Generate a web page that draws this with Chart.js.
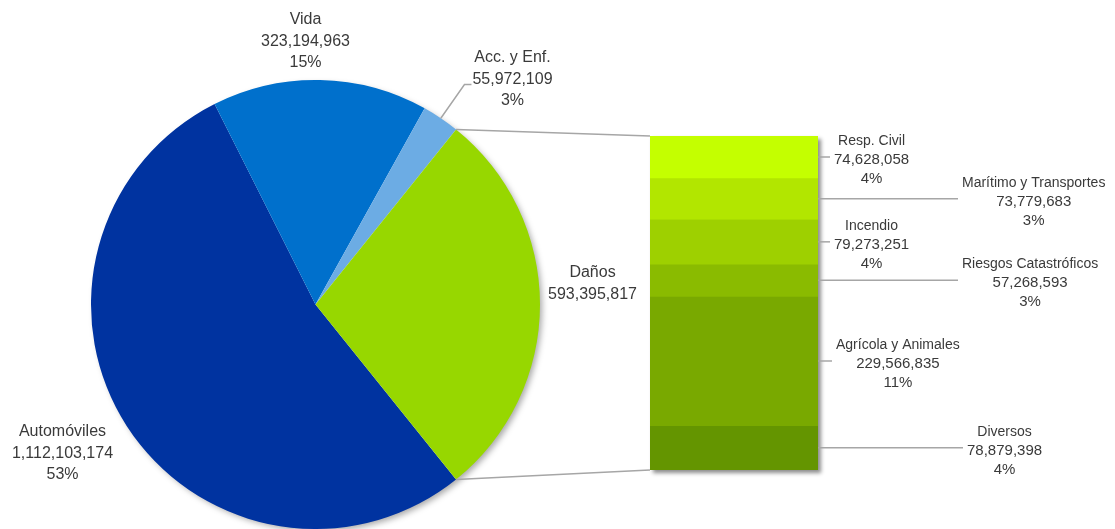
<!DOCTYPE html>
<html>
<head>
<meta charset="utf-8">
<script src="https://cdn.jsdelivr.net/npm/chart.js@4"></script>
<style>
  body { margin: 0; background: #fff; }
  #wrap { position: relative; width: 1115px; height: 529px; }
  #wrap canvas { position: absolute; left: 0; top: 0; }
</style>
</head>
<body>
<div id="wrap">
  <canvas id="pie" width="1115" height="529"></canvas>
  <canvas id="bar" width="1115" height="529"></canvas>
</div>
<script>
// ramos principales (pastel)
const ramos = ['Automóviles', 'Vida', 'Acc. y Enf.', 'Daños'];
const primas = [1112103174, 323194963, 55972109, 593395817];
const pctRamos = ['53%', '15%', '3%', null];
const coloresRamo = ['#0033a0', '#0070cc', '#6cace4', '#97d700'];

// desglose de Daños (barra)
const subramos = ['Resp. Civil', 'Marítimo y Transportes', 'Incendio', 'Riesgos Catastróficos', 'Agrícola y Animales', 'Diversos'];
const primasDanos = [74628058, 73779683, 79273251, 57268593, 229566835, 78879398];
const pctDanos = ['4%', '3%', '4%', '3%', '11%', '4%'];
const coloresDanos = ['#c4ff00', '#b2e600', '#9ed000', '#8abb00', '#79a900', '#649500'];

const FUENTE = '"Liberation Sans", Arial, sans-serif';
const TEXTO = '#3a3a3a';
const LINEA = '#a6a6a6';

const total = primas.reduce((a, b) => a + b, 0);
const totalDanos = primasDanos.reduce((a, b) => a + b, 0);
const fmt = v => v.toLocaleString('en-US');

// sizes: tamaño de fuente por linea
function bloqueTexto(ctx, lineas, sizes, cx, cy, paso) {
  ctx.save();
  ctx.fillStyle = TEXTO;
  ctx.textAlign = 'center';
  ctx.textBaseline = 'middle';
  const y0 = cy - (lineas.length - 1) * paso / 2;
  lineas.forEach((t, i) => {
    ctx.font = sizes[i] + 'px ' + FUENTE;
    ctx.fillText(t, cx, y0 + i * paso);
  });
  ctx.restore();
}

const sombraPie = {
  id: 'sombraPie',
  beforeDatasetsDraw(chart) {
    const a = chart.getDatasetMeta(0).data[0];
    const ctx = chart.ctx;
    ctx.save();
    ctx.shadowColor = 'rgba(0,0,0,0.35)';
    ctx.shadowBlur = 6;
    ctx.shadowOffsetX = 3;
    ctx.shadowOffsetY = 3;
    ctx.fillStyle = '#ffffff';
    ctx.beginPath();
    ctx.arc(a.x, a.y, a.outerRadius - 1, 0, Math.PI * 2);
    ctx.fill();
    ctx.restore();
  }
};

// posicion de cada etiqueta respecto al centro del pastel
const posEtiquetaPie = [[-253, 149], [-10, -263], [197, -225], [277, -21]];

const etiquetasPie = {
  id: 'etiquetasPie',
  afterDatasetsDraw(chart) {
    const ctx = chart.ctx;
    chart.getDatasetMeta(0).data.forEach((a, i) => {
      const cx = a.x + posEtiquetaPie[i][0];
      const cy = a.y + posEtiquetaPie[i][1];
      const lineas = [ramos[i], fmt(primas[i])];
      if (pctRamos[i]) lineas.push(pctRamos[i]);
      bloqueTexto(ctx, lineas, [16, 16, 16], cx, cy, 21.5);

      if (i == 2) {
        // linea guia de Acc. y Enf.
        const mid = (a.startAngle + a.endAngle) / 2;
        ctx.save();
        ctx.font = '16px ' + FUENTE;
        const x1 = cx - ctx.measureText(fmt(primas[i])).width / 2 - 1;
        ctx.strokeStyle = LINEA;
        ctx.lineWidth = 1.5;
        ctx.beginPath();
        ctx.moveTo(a.x + a.outerRadius * Math.cos(mid), a.y + a.outerRadius * Math.sin(mid));
        ctx.lineTo(x1 - 7, cy + 5);
        ctx.lineTo(x1, cy + 5);
        ctx.stroke();
        ctx.restore();
      }
    });
  }
};

const pieChart = new Chart(document.getElementById('pie'), {
  type: 'pie',
  data: {
    labels: ramos,
    datasets: [{ data: primas, backgroundColor: coloresRamo, borderWidth: 0 }]
  },
  options: {
    responsive: false,
    animation: false,
    rotation: 90 + 180 * primas[3] / total,
    layout: { padding: { left: 91, top: 80, right: 575, bottom: 0 } },
    plugins: { legend: { display: false }, tooltip: { enabled: false } }
  },
  plugins: [sombraPie, etiquetasPie]
});

const sombraBarra = {
  id: 'sombraBarra',
  beforeDatasetsDraw(chart) {
    const c = chart.chartArea;
    const ctx = chart.ctx;
    ctx.save();
    ctx.shadowColor = 'rgba(0,0,0,0.45)';
    ctx.shadowBlur = 4;
    ctx.shadowOffsetX = 3;
    ctx.shadowOffsetY = 3;
    ctx.fillStyle = coloresDanos[5];
    ctx.fillRect(c.left, c.top, c.right - c.left, c.bottom - c.top);
    ctx.restore();
  }
};

const conectores = {
  id: 'conectores',
  afterDraw(chart) {
    const a = pieChart.getDatasetMeta(0).data[3];
    const c = chart.chartArea;
    const ctx = chart.ctx;
    ctx.save();
    ctx.strokeStyle = LINEA;
    ctx.lineWidth = 1.5;
    ctx.beginPath();
    ctx.moveTo(a.x + a.outerRadius * Math.cos(a.startAngle), a.y + a.outerRadius * Math.sin(a.startAngle));
    ctx.lineTo(c.left, c.top);
    ctx.moveTo(a.x + a.outerRadius * Math.cos(a.endAngle), a.y + a.outerRadius * Math.sin(a.endAngle));
    ctx.lineTo(c.left, c.bottom);
    ctx.stroke();
    ctx.restore();
  }
};

// largo de la linea guia de cada etiqueta de la barra
const largoGuia = [12, 140, 12, 140, 14, 145];

const etiquetasBarra = {
  id: 'etiquetasBarra',
  afterDatasetsDraw(chart) {
    const ctx = chart.ctx;
    subramos.forEach((s, i) => {
      const el = chart.getDatasetMeta(i).data[0];
      const midY = (el.y + el.base) / 2;
      const x0 = el.x + el.width / 2;
      const x1 = x0 + largoGuia[i];
      ctx.save();
      ctx.strokeStyle = LINEA;
      ctx.lineWidth = 1.5;
      ctx.beginPath();
      ctx.moveTo(x0, midY);
      ctx.lineTo(x1, midY);
      ctx.stroke();
      const lineas = [s, fmt(primasDanos[i]), pctDanos[i]];
      const sizes = [14, 15, 15];
      const w = Math.max(...lineas.map((t, k) => {
        ctx.font = sizes[k] + 'px ' + FUENTE;
        return ctx.measureText(t).width;
      }));
      ctx.restore();
      bloqueTexto(ctx, lineas, sizes, x1 + 4 + w / 2, midY + 3, 19);
    });
  }
};

new Chart(document.getElementById('bar'), {
  type: 'bar',
  data: {
    labels: ['Daños'],
    datasets: subramos.map((s, i) => ({
      label: s,
      data: [primasDanos[i]],
      backgroundColor: coloresDanos[i],
      borderWidth: 0,
      barPercentage: 1,
      categoryPercentage: 1
    }))
  },
  options: {
    responsive: false,
    animation: false,
    layout: { padding: { left: 650, top: 136, right: 297, bottom: 59 } },
    scales: {
      x: { display: false, stacked: true },
      y: { display: false, stacked: true, reverse: true, min: 0, max: totalDanos }
    },
    plugins: { legend: { display: false }, tooltip: { enabled: false } }
  },
  plugins: [sombraBarra, conectores, etiquetasBarra]
});
</script>
</body>
</html>
